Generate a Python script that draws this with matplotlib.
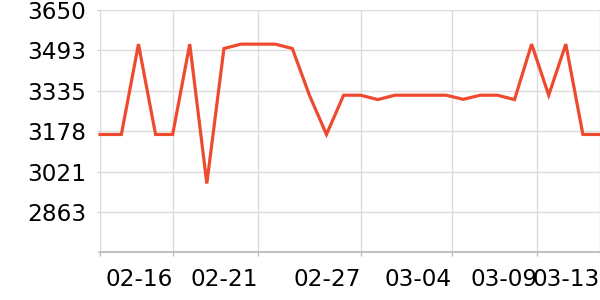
import matplotlib
matplotlib.use("Agg")
import matplotlib.pyplot as plt
import matplotlib.dates as mdates
import pandas as pd

dates = pd.to_datetime(["2025-02-11 18:00"] + [d.strftime("%Y-%m-%d 00:00") for d in pd.date_range("2025-02-13", "2025-03-13", freq="D")],
                       format="%Y-%m-%d %H:%M")
values = [3165, 3165, 3517, 3165, 3165, 3517, 2974, 3500, 3517, 3517,
          3517, 3500, 3318, 3165, 3318, 3318, 3301, 3318, 3318, 3318,
          3318, 3302, 3318, 3318, 3301, 3517, 3318, 3517, 3165, 3165]
tick_dates = ["2025-02-11 18:00", "2025-02-16 00:00", "2025-02-21 00:00", "2025-02-27 00:00",
              "2025-03-04 08:00", "2025-03-09 08:00", "2025-03-13 00:00"]
tick_labels = ["", "02-16", "02-21", "02-27", "03-04", "03-09", "03-13"]
y_min, y_max = 2706, 3650
y_ticks = [2706, 2863.33, 3020.67, 3178, 3335.33, 3492.67, 3650]
y_labels = ["", "2863", "3021", "3178", "3335", "3493", "3650"]

fig = plt.figure(figsize=(6, 3), dpi=100)
ax = fig.add_axes([100/600, 1 - 252.3/300, 500/600, (252.3 - 10)/300])

ax.plot(dates, values, color="#EE4A2F", lw=2.3, solid_joinstyle="miter", clip_on=False, zorder=3)

ax.set_xlim(dates[0], dates[-1])
ax.set_ylim(y_min, y_max)

ax.set_yticks(y_ticks)
ax.set_yticklabels(y_labels)
xt = [mdates.date2num(pd.Timestamp(d)) for d in tick_dates]
ax.set_xticks(xt)
ax.set_xticklabels(tick_labels, ha="right")

ax.grid(True, color="#dcdcdc", lw=1)
ax.set_axisbelow(True)
for s in ["top", "right"]:
    ax.spines[s].set_visible(False)
ax.spines["left"].set_color("#dcdcdc")
ax.spines["bottom"].set_color("#b5b5b5")
ax.spines["bottom"].set_linewidth(1.2)
ax.tick_params(axis="y", length=2, color="#cccccc", pad=8, labelsize=16.7)
ax.tick_params(axis="x", length=3, color="#b5b5b5", pad=8, labelsize=16.7)

fig.savefig("out.png", dpi=100)
